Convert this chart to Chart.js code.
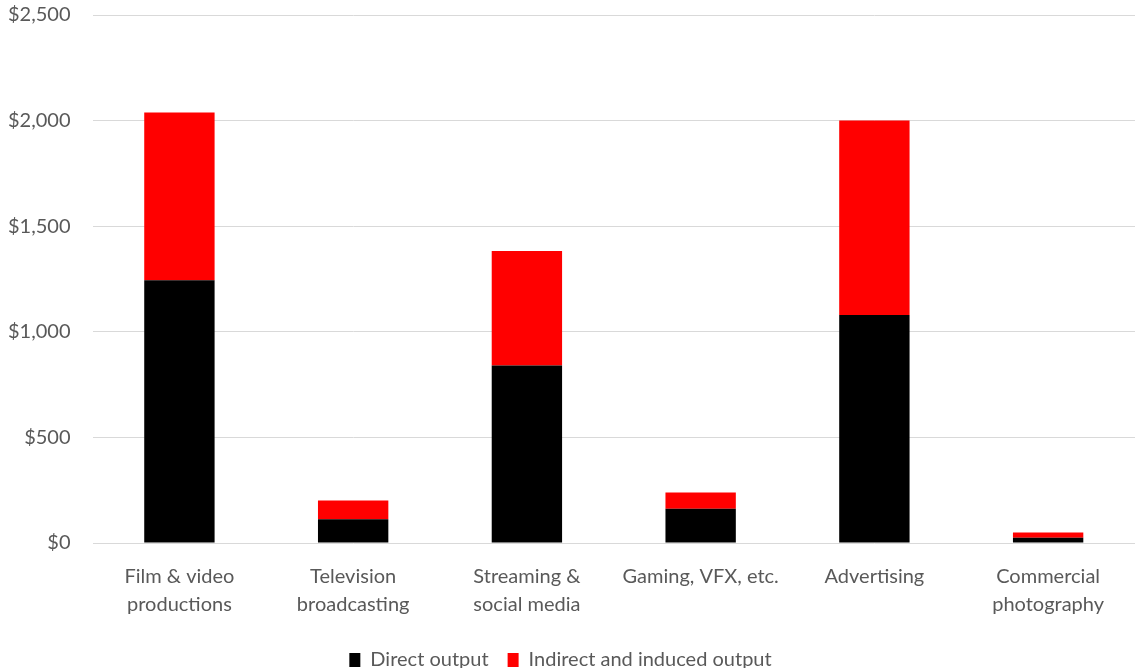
<!DOCTYPE html>
<html>
<head>
<meta charset="utf-8">
<script src="https://cdn.jsdelivr.net/npm/chart.js@4"></script>
<style>
html,body{margin:0;padding:0;background:#fff;}
#wrap{width:1135px;height:668px;position:relative;overflow:hidden;}
#inner{position:absolute;left:0;top:-19px;width:1135px;height:699px;}
</style>
</head>
<body>
<div id="wrap"><div id="inner"><canvas id="c"></canvas></div></div>
<script>
const categories = [
  ["Film & video", "productions"],
  ["Television", "broadcasting"],
  ["Streaming &", "social media"],
  ["Gaming, VFX, etc."],
  ["Advertising"],
  ["Commercial", "photography"]
];
const directOutput = [1244, 112, 840, 162, 1080, 25];
const indirectInducedOutput = [794, 89, 542, 77, 920, 25];
const yTicks = [0, 500, 1000, 1500, 2000, 2500];

const fontFamily = "Lato, 'Open Sans', sans-serif";
new Chart(document.getElementById('c'), {
  type: 'bar',
  data: {
    labels: categories,
    datasets: [
      { label: 'Direct output', data: directOutput, backgroundColor: '#000000', categoryPercentage: 1, barPercentage: 0.405 },
      { label: 'Indirect and induced output', data: indirectInducedOutput, backgroundColor: '#ff0000', categoryPercentage: 1, barPercentage: 0.405 }
    ]
  },
  options: {
    responsive: true,
    maintainAspectRatio: false,
    animation: false,
    layout: { padding: { top: 0, right: 0, left: -14, bottom: 0 } },
    plugins: {
      legend: {
        position: 'bottom',
        labels: {
          color: '#595959',
          font: { family: fontFamily, size: 20 },
          boxWidth: 11,
          boxHeight: 14,
          padding: 19
        }
      },
      tooltip: { enabled: false }
    },
    scales: {
      x: {
        stacked: true,
        grid: { display: false },
        border: { display: false },
        ticks: { color: '#595959', font: { family: fontFamily, size: 20, lineHeight: 1.4 }, maxRotation: 0, autoSkip: false, padding: 12 }
      },
      y: {
        stacked: true,
        min: 0, max: 2500,
        afterBuildTicks: (axis) => { axis.ticks = yTicks.map(v => ({ value: v })); },
        grid: { color: '#d9d9d9', lineWidth: 1, drawTicks: false },
        border: { display: false },
        ticks: {
          color: '#595959',
          font: { family: fontFamily, size: 20 },
          padding: 22,
          callback: (v) => '$' + Number(v).toLocaleString('en-US')
        }
      }
    }
  }
});
</script>
</body>
</html>
